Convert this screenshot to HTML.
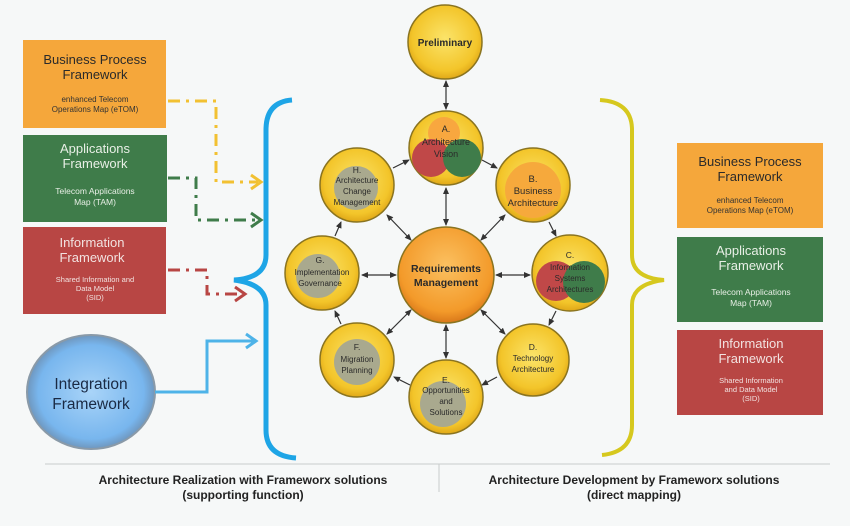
<!DOCTYPE html>
<html><head><meta charset="utf-8"><style>
html,body{margin:0;padding:0;background:#f6f8f8;}
svg{display:block;font-family:"Liberation Sans",sans-serif;}
</style></head><body>
<svg width="850" height="526" viewBox="0 0 850 526" xmlns="http://www.w3.org/2000/svg">
<defs>
<radialGradient id="yel" cx="50%" cy="45%" r="55%"><stop offset="0" stop-color="#fbe46a"/><stop offset="0.8" stop-color="#f3c52a"/><stop offset="1" stop-color="#e0a818"/></radialGradient>
<radialGradient id="org" cx="50%" cy="40%" r="60%"><stop offset="0" stop-color="#fbc060"/><stop offset="0.8" stop-color="#f39a2a"/><stop offset="1" stop-color="#d9781a"/></radialGradient>
<radialGradient id="blu" cx="50%" cy="50%" r="55%"><stop offset="0" stop-color="#a9d4f8"/><stop offset="0.75" stop-color="#78b6ee"/><stop offset="0.9" stop-color="#6f98c0"/><stop offset="1" stop-color="#8ea4b8"/></radialGradient>
<marker id="ah" markerWidth="8" markerHeight="8" refX="6" refY="4" orient="auto-start-reverse" markerUnits="userSpaceOnUse"><path d="M0,1 L7,4 L0,7 z" fill="#333"/></marker>
</defs>
<rect width="850" height="526" fill="#f6f8f8"/>

<!-- left boxes -->
<rect x="23" y="40" width="143" height="88" fill="#f5a73b"/>
<text x="95" y="64" text-anchor="middle" font-size="13" fill="#2a2a2a">Business Process</text>
<text x="95" y="79" text-anchor="middle" font-size="13" fill="#2a2a2a">Framework</text>
<text x="95" y="102" text-anchor="middle" font-size="8" fill="#333">enhanced Telecom</text>
<text x="95" y="112" text-anchor="middle" font-size="8" fill="#333">Operations Map (eTOM)</text>

<rect x="23" y="135" width="144" height="87" fill="#3f7c4a"/>
<text x="95" y="153" text-anchor="middle" font-size="13" fill="#e8efe6">Applications</text>
<text x="95" y="168" text-anchor="middle" font-size="13" fill="#e8efe6">Framework</text>
<text x="95" y="194" text-anchor="middle" font-size="8.5" fill="#e8efe6">Telecom Applications</text>
<text x="95" y="205" text-anchor="middle" font-size="8.5" fill="#e8efe6">Map (TAM)</text>

<rect x="23" y="227" width="143" height="87" fill="#b84644"/>
<text x="92" y="247" text-anchor="middle" font-size="13" fill="#f2e2e0">Information</text>
<text x="92" y="262" text-anchor="middle" font-size="13" fill="#f2e2e0">Framework</text>
<text x="95" y="282" text-anchor="middle" font-size="7.5" fill="#f2e2e0">Shared Information and</text>
<text x="95" y="291" text-anchor="middle" font-size="7.5" fill="#f2e2e0">Data Model</text>
<text x="95" y="300" text-anchor="middle" font-size="7.5" fill="#f2e2e0">(SID)</text>

<!-- dash-dot connectors -->
<g fill="none" stroke-width="3" stroke-dasharray="12,6,3,6">
<path d="M168,101 H216 V182 H258" stroke="#f2c132"/>
<path d="M168,178 H196 V220 H258" stroke="#3f7c4a"/>
<path d="M168,270 H207 V294 H242" stroke="#b84644"/>
</g>
<g fill="none" stroke-width="3">
<path d="M251,175 L261,182 L251,189" stroke="#f2c132"/>
<path d="M251,213 L261,220 L251,227" stroke="#3f7c4a"/>
<path d="M235,287 L245,294 L235,301" stroke="#b84644"/>
</g>

<!-- integration framework -->
<ellipse cx="91" cy="392" rx="64" ry="57" fill="url(#blu)" stroke="#8a9aa8" stroke-width="2"/>
<text x="91" y="389" text-anchor="middle" font-size="15.5" fill="#1a2a44">Integration</text>
<text x="91" y="409" text-anchor="middle" font-size="15.5" fill="#1a2a44">Framework</text>
<path d="M155,392 H207 V341 H254" fill="none" stroke="#4eb3e8" stroke-width="3"/>
<path d="M246,334 L256,341 L246,348" fill="none" stroke="#4eb3e8" stroke-width="3"/>

<!-- braces -->
<path d="M292,100 Q266,102 266,130 V255 Q266,278 234,280 Q266,284 266,305 V430 Q266,456 296,458" fill="none" stroke="#1ea5e6" stroke-width="5"/>
<path d="M600,100 Q632,102 632,130 V255 Q632,278 664,280 Q632,284 632,305 V425 Q632,452 602,455" fill="none" stroke="#d6c81e" stroke-width="4"/>

<!-- right boxes -->
<rect x="677" y="143" width="146" height="85" fill="#f5a73b"/>
<text x="750" y="166" text-anchor="middle" font-size="13" fill="#2a2a2a">Business Process</text>
<text x="750" y="181" text-anchor="middle" font-size="13" fill="#2a2a2a">Framework</text>
<text x="750" y="203" text-anchor="middle" font-size="8" fill="#333">enhanced Telecom</text>
<text x="750" y="213" text-anchor="middle" font-size="8" fill="#333">Operations Map (eTOM)</text>

<rect x="677" y="237" width="146" height="85" fill="#3f7c4a"/>
<text x="751" y="255" text-anchor="middle" font-size="13" fill="#e8efe6">Applications</text>
<text x="751" y="270" text-anchor="middle" font-size="13" fill="#e8efe6">Framework</text>
<text x="751" y="295" text-anchor="middle" font-size="8.5" fill="#e8efe6">Telecom Applications</text>
<text x="751" y="306" text-anchor="middle" font-size="8.5" fill="#e8efe6">Map (TAM)</text>

<rect x="677" y="330" width="146" height="85" fill="#b84644"/>
<text x="751" y="348" text-anchor="middle" font-size="13" fill="#f2e2e0">Information</text>
<text x="751" y="363" text-anchor="middle" font-size="13" fill="#f2e2e0">Framework</text>
<text x="751" y="383" text-anchor="middle" font-size="7.5" fill="#f2e2e0">Shared Information</text>
<text x="751" y="392" text-anchor="middle" font-size="7.5" fill="#f2e2e0">and Data Model</text>
<text x="751" y="401" text-anchor="middle" font-size="7.5" fill="#f2e2e0">(SID)</text>

<!-- connectors between circles -->
<g stroke="#333" stroke-width="1.2" marker-end="url(#ah)" marker-start="url(#ah)">
<line x1="446" y1="81" x2="446" y2="109"/>
<line x1="446" y1="188" x2="446" y2="225"/>
<line x1="446" y1="325" x2="446" y2="358"/>
<line x1="496" y1="275" x2="530" y2="275"/>
<line x1="396" y1="275" x2="362" y2="275"/>
<line x1="481" y1="240" x2="505" y2="215"/>
<line x1="411" y1="240" x2="387" y2="215"/>
<line x1="481" y1="310" x2="505" y2="334"/>
<line x1="411" y1="310" x2="387" y2="334"/>
</g>
<g stroke="#333" stroke-width="1.2" marker-end="url(#ah)">
<line x1="482" y1="160" x2="497" y2="168"/>
<line x1="549" y1="222" x2="556" y2="236"/>
<line x1="556" y1="311" x2="549" y2="325"/>
<line x1="497" y1="377" x2="482" y2="385"/>
<line x1="410" y1="385" x2="394" y2="377"/>
<line x1="341" y1="324" x2="335" y2="311"/>
<line x1="335" y1="236" x2="341" y2="222"/>
<line x1="393" y1="168" x2="409" y2="160"/>
</g>

<!-- circles -->
<g stroke="#8a7420" stroke-width="1.5">
<circle cx="445" cy="42" r="37" fill="url(#yel)"/>
<circle cx="446" cy="148" r="37" fill="url(#yel)"/>
<circle cx="533" cy="185" r="37" fill="url(#yel)"/>
<circle cx="570" cy="273" r="38" fill="url(#yel)"/>
<circle cx="533" cy="360" r="36" fill="url(#yel)"/>
<circle cx="446" cy="397" r="37" fill="url(#yel)"/>
<circle cx="357" cy="360" r="37" fill="url(#yel)"/>
<circle cx="322" cy="273" r="37" fill="url(#yel)"/>
<circle cx="357" cy="185" r="37" fill="url(#yel)"/>
<circle cx="446" cy="275" r="48" fill="url(#org)"/>
</g>
<!-- inner overlays -->
<circle cx="444" cy="133" r="16" fill="#f8a73f"/>
<circle cx="431" cy="158" r="19" fill="#c04848"/>
<circle cx="462" cy="158" r="19" fill="#3f7c4a"/>
<circle cx="533" cy="190" r="28" fill="#f6a93c"/>
<circle cx="556" cy="281" r="20" fill="#c04848"/>
<circle cx="584" cy="282" r="21" fill="#3f7c4a"/>
<g fill="#a9a98e">
<circle cx="356" cy="188" r="22"/>
<circle cx="318" cy="276" r="22"/>
<circle cx="357" cy="362" r="23"/>
<circle cx="443" cy="404" r="23"/>
</g>

<g text-anchor="middle" fill="#2a2a2a">
<text x="445" y="46" font-size="10" font-weight="bold">Preliminary</text>
<text x="446" y="132" font-size="9">A.</text>
<text x="446" y="145" font-size="9">Architecture</text>
<text x="446" y="157" font-size="9">Vision</text>
<text x="533" y="182" font-size="9.5">B.</text>
<text x="533" y="194" font-size="9.5">Business</text>
<text x="533" y="206" font-size="9.5">Architecture</text>
<text x="570" y="258" font-size="8.5">C.</text>
<text x="570" y="270" font-size="8">Information</text>
<text x="570" y="281" font-size="8">Systems</text>
<text x="570" y="292" font-size="8">Architectures</text>
<text x="533" y="350" font-size="8.5">D.</text>
<text x="533" y="361" font-size="8">Technology</text>
<text x="533" y="372" font-size="8">Architecture</text>
<text x="446" y="383" font-size="8.5">E.</text>
<text x="446" y="393" font-size="8">Opportunities</text>
<text x="446" y="404" font-size="8">and</text>
<text x="446" y="415" font-size="8">Solutions</text>
<text x="357" y="350" font-size="8.5">F.</text>
<text x="357" y="362" font-size="8">Migration</text>
<text x="357" y="373" font-size="8">Planning</text>
<text x="320" y="263" font-size="8.5">G.</text>
<text x="322" y="275" font-size="8">Implementation</text>
<text x="320" y="286" font-size="8">Governance</text>
<text x="357" y="173" font-size="8.5">H.</text>
<text x="357" y="183" font-size="8">Architecture</text>
<text x="357" y="194" font-size="8">Change</text>
<text x="357" y="205" font-size="8">Management</text>
<text x="446" y="272" font-size="10.5" font-weight="bold">Requirements</text>
<text x="446" y="286" font-size="10.5" font-weight="bold">Management</text>
</g>

<!-- bottom -->
<line x1="45" y1="464" x2="830" y2="464" stroke="#c8cccc" stroke-width="1"/>
<line x1="439" y1="464" x2="439" y2="492" stroke="#c8cccc" stroke-width="1"/>
<text x="243" y="484" text-anchor="middle" font-size="12" font-weight="bold" fill="#222">Architecture Realization with Frameworx solutions</text>
<text x="243" y="499" text-anchor="middle" font-size="12" font-weight="bold" fill="#222">(supporting function)</text>
<text x="634" y="484" text-anchor="middle" font-size="12" font-weight="bold" fill="#222">Architecture Development by Frameworx solutions</text>
<text x="634" y="499" text-anchor="middle" font-size="12" font-weight="bold" fill="#222">(direct mapping)</text>
</svg>
</body></html>
